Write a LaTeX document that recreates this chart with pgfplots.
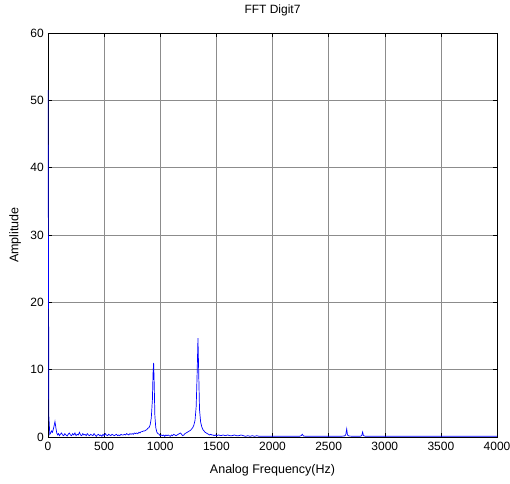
\documentclass[border=0pt]{standalone}
\usepackage{pgfplots}
\pgfplotsset{compat=1.18}
\usepackage{fontspec}
\setmainfont{Liberation Sans}
\definecolor{mblue}{RGB}{0,0,255}
\begin{document}
\fontsize{12}{14}\selectfont
\begin{tikzpicture}
\begin{axis}[
  name=ax,
  scale only axis,
  width=449pt, height=404pt,
  xmin=0, xmax=4000, ymin=0, ymax=60,
  xtick={0,500,...,4000}, ytick={0,10,...,60},
  grid=major,
  major grid style={black!45, line width=0.4pt},
  axis line style={black, line width=0.7pt},
  tick style={black, line width=0.5pt},
  tick align=inside,
  major tick length=4pt,
  xtick pos=both, ytick pos=both,
  /pgf/number format/assume math mode=true,
  /pgf/number format/1000 sep={},
  tick label style={font=\fontsize{12}{14}\selectfont},
  xticklabel style={yshift=-1pt},
  title={FFT Digit7},
  title style={at={(axis description cs:0.5,1.04)}, anchor=center, yshift=0pt, font=\fontsize{12}{14}\selectfont},
  xlabel={Analog Frequency(Hz)},
  xlabel style={at={(axis description cs:0.5,-0.082)}, anchor=center, font=\fontsize{12.5}{14}\selectfont},
  ylabel={Amplitude},
  ylabel style={at={(axis description cs:-0.073,0.5)}, anchor=center, font=\fontsize{12.5}{14}\selectfont},
]
\addplot[mblue, line width=0.7pt, mark=none] coordinates {
(0,51.5) (8,3.0) (16,0.4) (24,0.6) (32,0.9) (40,0.7) (48,1.2) (56,1.8) (62,2.3) (70,1.4)
(78,0.6) (86,0.3) (94,0.5) (102,0.2) (110,0.4) (120,0.6) (130,0.3) (140,0.2) (150,0.5) (160,0.3)
(170,0.15) (180,0.4) (190,0.6) (200,0.3) (210,0.2) (220,0.5) (230,0.3) (240,0.6) (250,0.2) (260,0.4)
(270,0.3) (280,0.7) (290,0.3) (300,0.2) (310,0.5) (320,0.3) (330,0.4) (340,0.2) (350,0.5) (360,0.3)
(370,0.2) (380,0.4) (390,0.3) (400,0.2) (410,0.5) (420,0.3) (430,0.1) (440,0.3) (450,0.4) (460,0.2)
(470,0.3) (480,0.1) (490,0.4) (500,0.2) (510,0.5) (520,0.3) (530,0.2) (540,0.4) (550,0.3) (560,0.2)
(570,0.4) (580,0.3) (590,0.2) (600,0.3) (610,0.4) (620,0.2) (630,0.3) (640,0.2) (650,0.4) (660,0.3)
(670,0.3) (680,0.4) (690,0.3) (700,0.5) (710,0.4) (720,0.3) (730,0.5) (740,0.4) (750,0.5) (760,0.4)
(770,0.6) (780,0.5) (790,0.6) (800,0.5) (810,0.7) (820,0.6) (830,0.8) (840,0.8) (850,0.9) (860,0.9)
(870,1.0) (880,1.1) (890,1.3) (900,1.4) (910,1.8) (920,2.8) (930,5.5) (936,9.5) (941,11.0) (946,8.0)
(952,3.2) (960,1.4) (970,0.7) (980,0.5) (990,0.4) (1000,0.2) (1010,0.3) (1020,0.2) (1030,0.3) (1040,0.1)
(1050,0.3) (1060,0.2) (1070,0.3) (1080,0.2) (1090,0.1) (1100,0.3) (1110,0.2) (1120,0.4) (1130,0.3) (1140,0.2)
(1150,0.3) (1160,0.4) (1170,0.5) (1180,0.6) (1190,0.4) (1200,0.2) (1210,0.3) (1220,0.5) (1230,0.6) (1240,0.7)
(1250,0.8) (1260,0.9) (1270,1.0) (1280,1.2) (1290,1.4) (1300,1.8) (1310,2.5) (1320,4.5) (1328,9.0) (1336,14.7)
(1342,10.0) (1350,4.0) (1360,2.2) (1370,1.5) (1380,1.1) (1390,0.9) (1400,0.7) (1410,0.6) (1420,0.5) (1430,0.4)
(1440,0.3) (1450,0.4) (1460,0.3) (1470,0.3) (1480,0.2) (1490,0.3) (1500,0.2) (1520,0.3) (1540,0.2) (1560,0.3)
(1580,0.2) (1600,0.3) (1620,0.2) (1640,0.2) (1660,0.3) (1680,0.2) (1700,0.2) (1720,0.3) (1740,0.2) (1760,0.1)
(1780,0.2) (1800,0.1) (1820,0.2) (1840,0.1) (1860,0.2) (1880,0.1) (1900,0.1) (1950,0.1) (2000,0.1) (2050,0.1)
(2100,0.1) (2150,0.1) (2200,0.1) (2240,0.1) (2255,0.2) (2266,0.4) (2276,0.15) (2300,0.1) (2350,0.1) (2400,0.1)
(2450,0.1) (2500,0.1) (2550,0.1) (2600,0.1) (2640,0.15) (2652,0.3) (2661,1.2) (2668,0.3) (2680,0.15) (2720,0.1)
(2780,0.1) (2795,0.2) (2803,0.75) (2810,0.2) (2830,0.1) (2900,0.1) (3000,0.1) (3100,0.1) (3200,0.1) (3300,0.1)
(3400,0.1) (3500,0.1) (3600,0.1) (3700,0.1) (3800,0.1) (3900,0.1) (4000,0.1)
};
\end{axis}
\pgfresetboundingbox
\useasboundingbox (ax.south west) ++(-48pt,-46pt) rectangle ++(510pt,483pt);
\end{tikzpicture}
\end{document}
